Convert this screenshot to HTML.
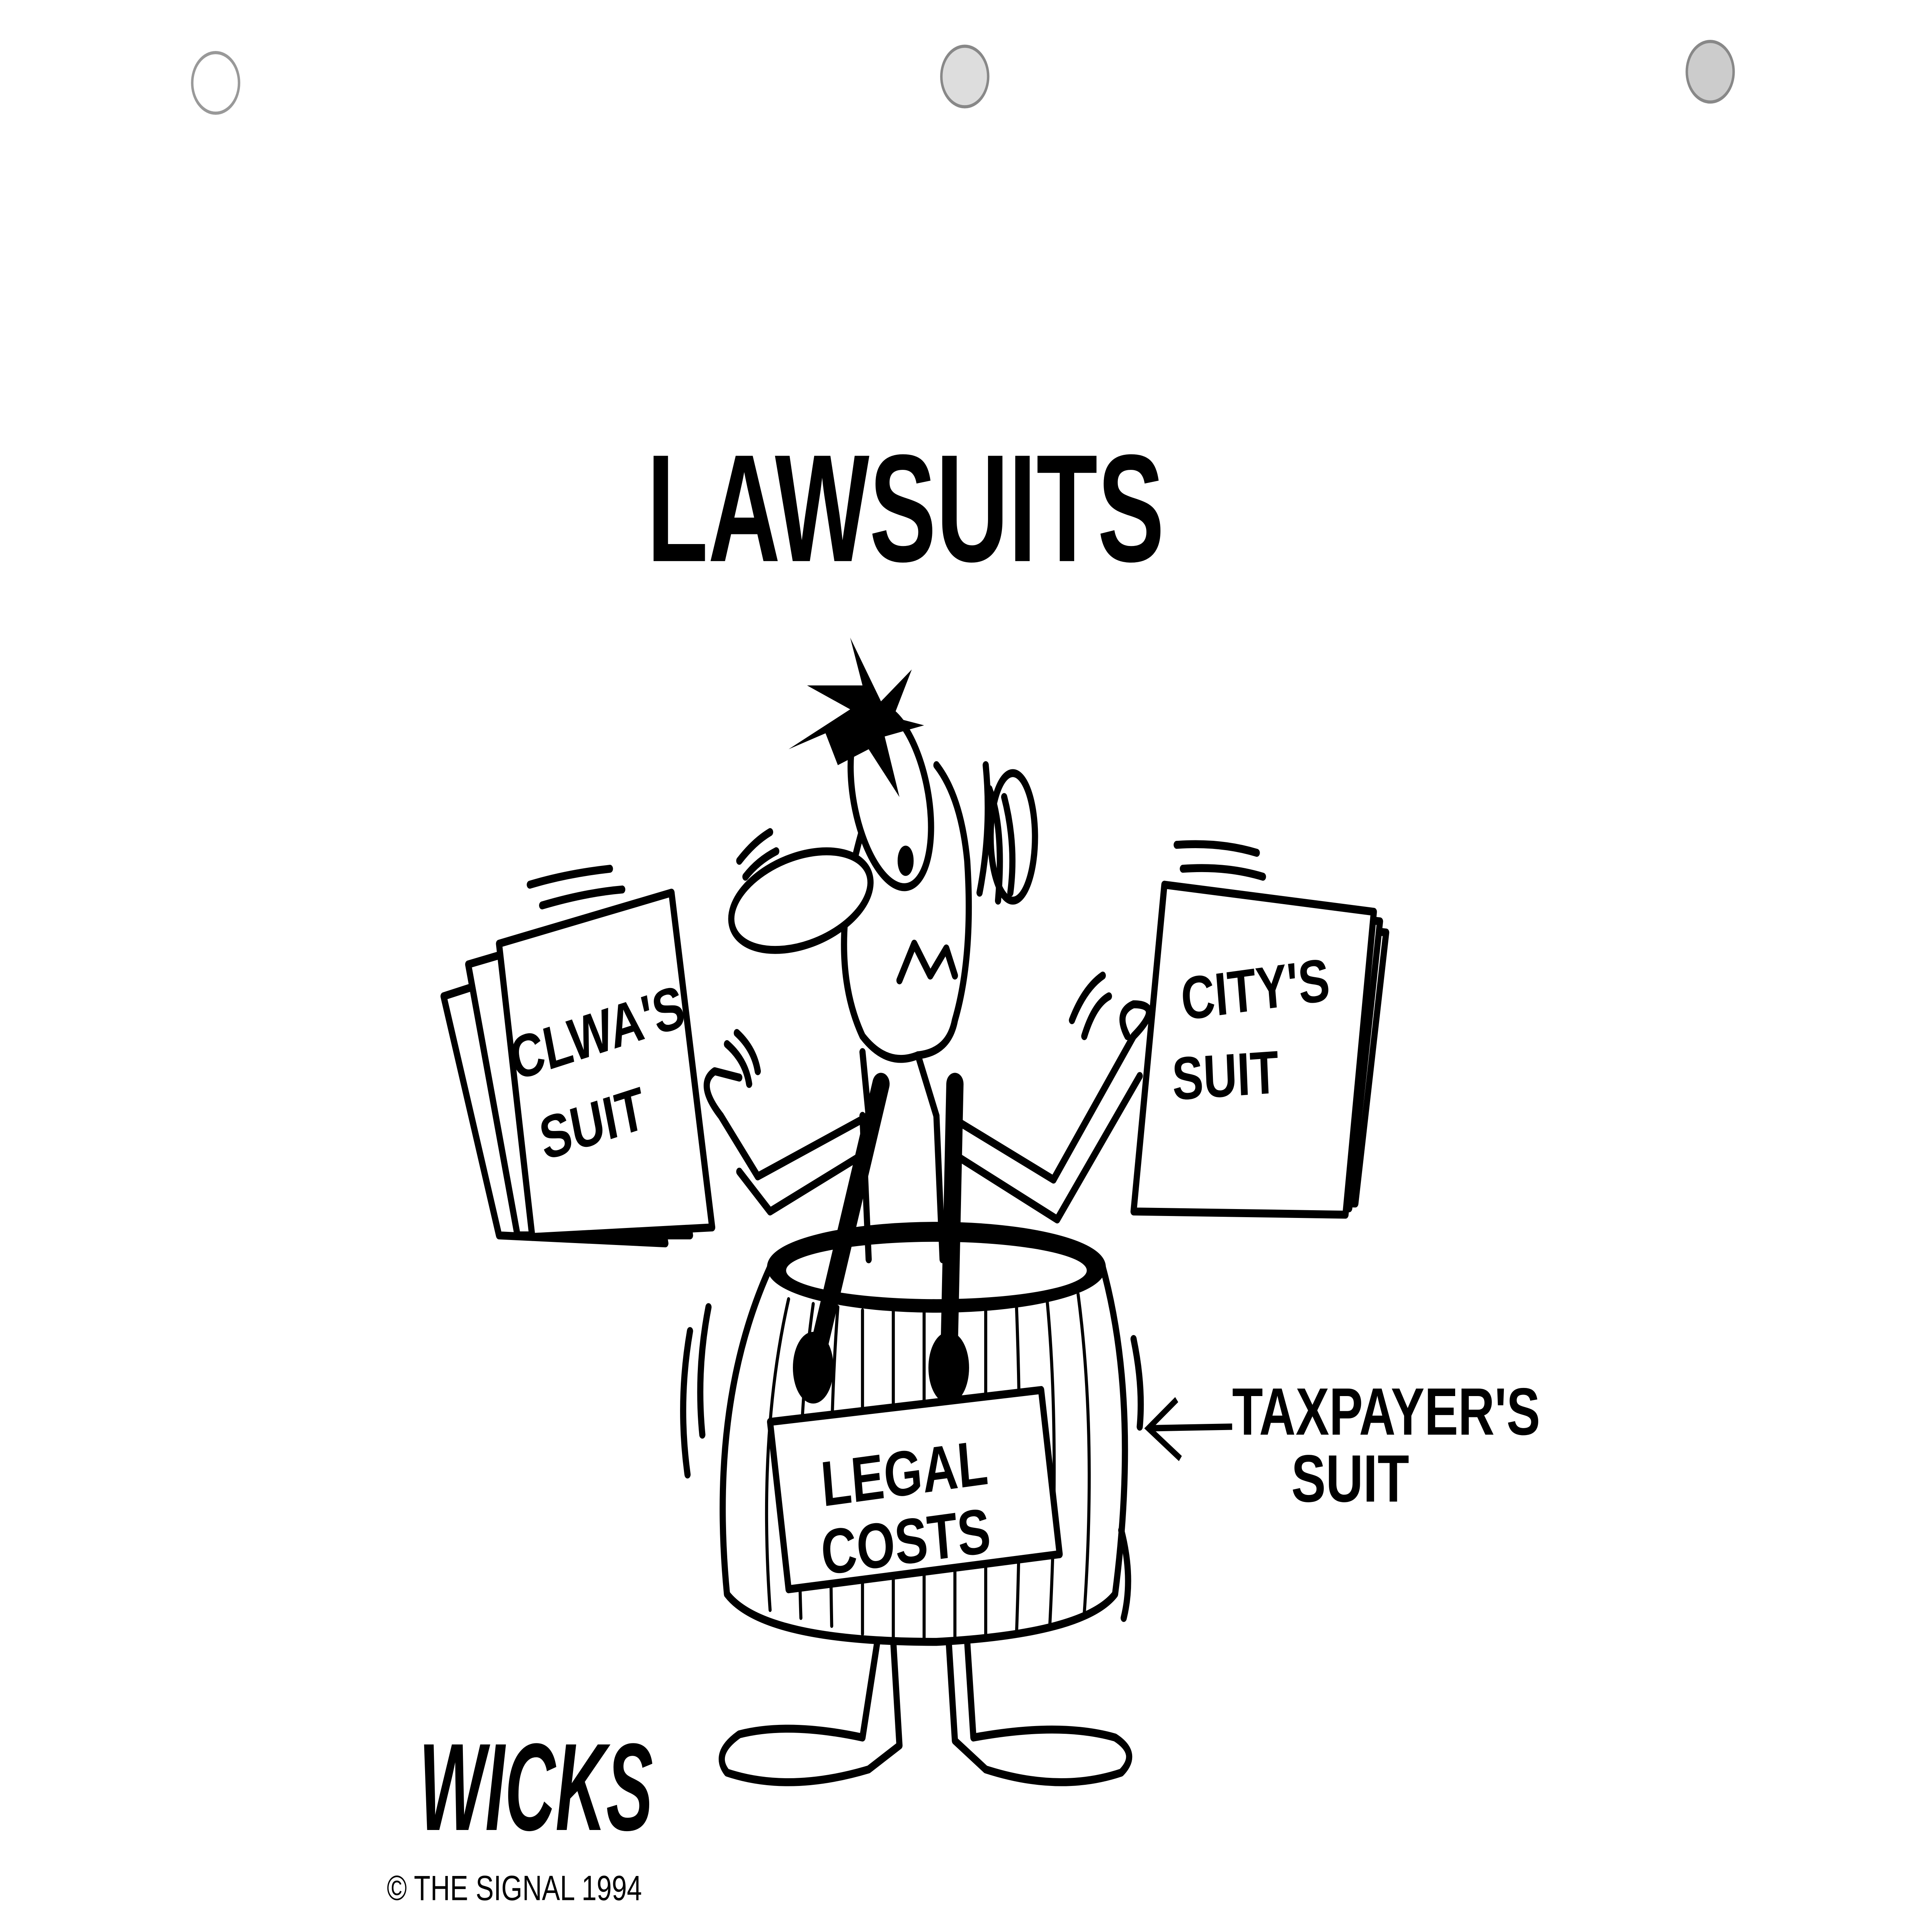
<!DOCTYPE html>
<html><head><meta charset="utf-8"><meta name="viewport" content="width=6600, initial-scale=1"><style>
html,body{margin:0;padding:0;background:#fff;width:100%;height:100%;overflow:hidden;}
svg{display:block;position:fixed;left:0;top:0;width:100vw;height:100vh;}
text{font-family:"Liberation Sans",sans-serif;font-weight:bold;fill:#000;}
</style></head><body>
<svg viewBox="0 0 1568 1212" preserveAspectRatio="none" xmlns="http://www.w3.org/2000/svg">
<rect width="1568" height="1212" fill="#fff"/>
<circle cx="175" cy="52" r="19" fill="#fff" stroke="#999" stroke-width="2"/>
<circle cx="783" cy="48" r="19" fill="#ddd" stroke="#888" stroke-width="2"/>
<circle cx="1388" cy="45" r="19" fill="#ccc" stroke="#888" stroke-width="2"/>

<text x="525" y="352" font-size="96" textLength="420" lengthAdjust="spacingAndGlyphs">LAWSUITS</text>

<g fill="none" stroke="#000" stroke-width="5" stroke-linecap="round" stroke-linejoin="round">
<path d="M360 625 L500 590 L540 780 L405 775 Z" fill="#fff"/>
<path d="M380 605 L525 572 L560 775 L420 775 Z" fill="#fff"/>
<path d="M405 592 L545 560 L578 770 L432 776 Z" fill="#fff"/>
<path d="M430 555 Q460 548 495 545 M440 568 Q475 560 505 558"/>
<path d="M960 570 L1125 585 L1100 755 L935 752 Z" fill="#fff"/>
<path d="M952 562 L1120 578 L1095 758 L928 755 Z" fill="#fff"/>
<path d="M945 555 L1115 572 L1092 762 L920 760 Z" fill="#fff"/>
<path d="M955 530 Q990 528 1020 535 M960 545 Q995 543 1025 550"/>

<path d="M705 700 L615 738 L585 700 Q565 680 580 672 L600 676"/>
<path d="M705 722 L625 760 L600 735"/>
<path d="M770 700 L855 740 L920 650 Q945 630 920 630 Q905 635 915 650"/>
<path d="M770 722 L858 765 L925 675"/>
<path d="M870 640 Q880 620 895 612 M880 650 Q888 630 900 625 M590 655 Q605 665 608 680 M598 648 Q612 658 615 672"/>

<path d="M625 795 Q575 880 590 1000 Q620 1030 760 1030 Q880 1025 905 1000 Q925 880 895 795" fill="#fff"/>
<ellipse cx="760" cy="795" rx="135" ry="26" fill="#000"/>
<ellipse cx="760" cy="797" rx="122" ry="18" fill="#fff" stroke="none"/>
<g stroke-width="2.5">
<path d="M640 815 Q615 900 625 1010 M660 818 Q645 900 650 1015 M680 820 Q672 900 675 1020 M700 822 L700 1025 M725 822 L725 1028 M750 823 L750 1028 M775 823 L775 1028 M800 822 L800 1028 M825 820 Q830 920 825 1025 M850 817 Q860 900 852 1020 M875 812 Q890 900 880 1012"/>
</g>
<path d="M560 835 Q550 880 558 925 M575 820 Q565 860 570 900 M910 960 Q920 990 912 1015 M920 840 Q928 870 925 895"/>
<path d="M700 700 L705 790 M760 700 L765 790"/>
<path d="M715 680 L660 860 M775 680 L770 860" stroke-width="14"/>
<ellipse cx="660" cy="858" rx="14" ry="20" fill="#000"/>
<ellipse cx="770" cy="858" rx="14" ry="20" fill="#000"/>
<path d="M625 892 L845 872 L860 975 L640 997 Z" fill="#fff"/>

<path d="M712 1030 L700 1090 Q640 1080 600 1088 Q578 1100 590 1112 Q640 1125 705 1110 L730 1095 L725 1030"/>
<path d="M770 1030 L775 1092 L800 1110 Q860 1125 910 1112 Q925 1100 905 1090 Q860 1080 790 1090 L785 1030"/>

<path d="M700 520 Q670 600 700 650 Q720 670 745 662 Q770 660 775 640 Q790 600 785 540 Q780 500 760 480"/>
<path d="M700 660 L705 700 M745 662 L760 700"/>
<ellipse cx="822" cy="525" rx="18" ry="40"/>
<path d="M800 480 Q805 520 795 560"/>
<ellipse cx="723" cy="500" rx="30" ry="58" transform="rotate(-15 723 500)" fill="#fff"/>
<ellipse cx="735" cy="540" rx="4" ry="7" fill="#000"/>
<ellipse cx="650" cy="565" rx="58" ry="28" transform="rotate(-15 650 565)" fill="#fff"/>
<path d="M730 615 L742 592 L755 612 L768 595 L775 612"/>
<path d="M803 495 Q815 520 810 565 M815 500 Q825 530 820 560 M600 540 Q612 528 625 522 M605 550 Q615 540 630 534"/>
</g>
<path d="M690 445 L655 430 L700 430 L690 400 L715 440 L740 420 L725 450 L750 455 L718 462 L730 500 L705 470 L680 480 L670 460 L640 470 Z" fill="#000"/>

<text x="418" y="678" font-size="38" transform="rotate(-14 418 678)">CLWA'S</text>
<text x="442" y="728" font-size="38" transform="rotate(-14 442 728)">SUIT</text>
<text x="960" y="640" font-size="38" transform="rotate(-6 960 640)">CITY'S</text>
<text x="952" y="690" font-size="38" transform="rotate(-3 952 690)">SUIT</text>
<text x="668" y="945" font-size="40" transform="rotate(-6 668 945)">LEGAL</text>
<text x="668" y="988" font-size="40" transform="rotate(-6 668 988)">COSTS</text>

<path d="M1000 895 L932 896 M955 878 L932 896 L958 915" fill="none" stroke="#000" stroke-width="4"/>
<text x="1000" y="900" font-size="42" textLength="250" lengthAdjust="spacingAndGlyphs">TAXPAYER'S</text>
<text x="1048" y="942" font-size="42">SUIT</text>

<text x="340" y="1148" font-size="78" font-style="italic" textLength="190" lengthAdjust="spacingAndGlyphs">WICKS</text>
<text x="314" y="1192" font-size="22" style="font-weight:normal">© THE SIGNAL 1994</text>
</svg>
</body></html>
